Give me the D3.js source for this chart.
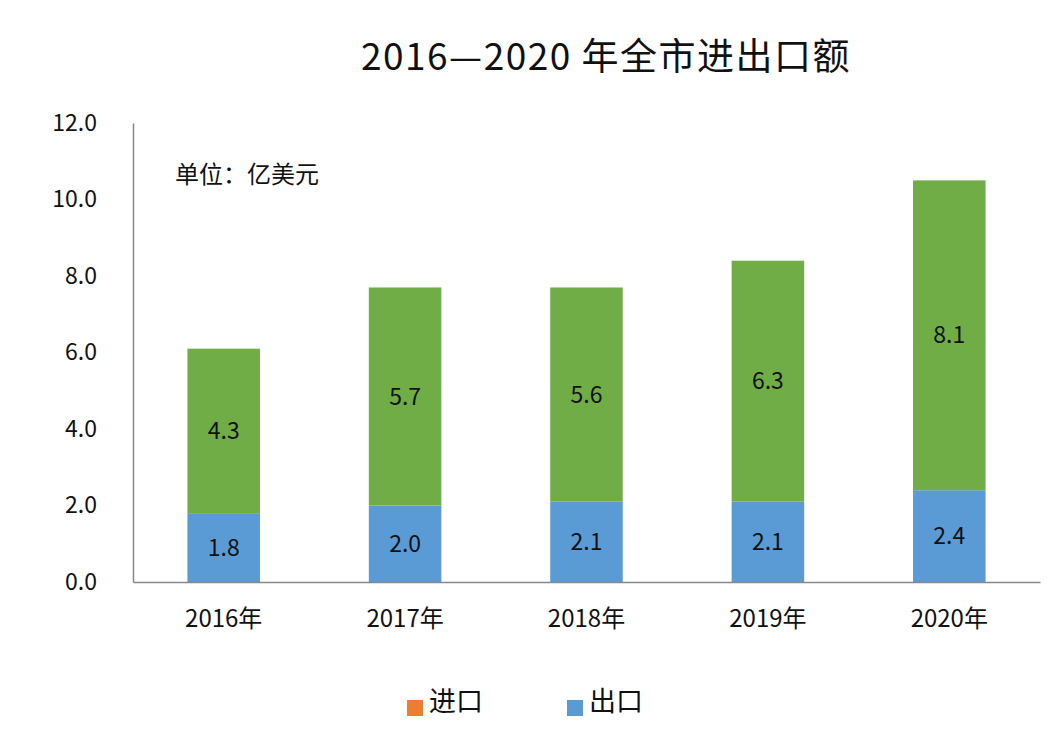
<!DOCTYPE html>
<html><head><meta charset="utf-8">
<script src="https://cdn.jsdelivr.net/npm/d3@7"></script>
<style>body{margin:0;background:#fff}svg{display:block}text{font-family:"Noto Sans CJK SC","Noto Sans",sans-serif;fill:#111}</style>
</head><body><div id="chart"></div>
<script>
const years = ["2016年","2017年","2018年","2019年","2020年"];
const exportVals = [1.8, 2.0, 2.1, 2.1, 2.4];   // 出口 (blue)
const importVals = [4.3, 5.7, 5.6, 6.3, 8.1];   // 进口 (green)
const yTicks = [0, 2, 4, 6, 8, 10, 12];
const legendItems = ["进口", "出口"];

const W = 1056, H = 756;
const m = {left:133, right:16, top:123, bottom:174};
const svg = d3.select("#chart").append("svg").attr("width", W).attr("height", H);

const x = d3.scaleBand().domain(years).range([m.left, W - m.right]).paddingInner(0.6).paddingOuter(0.3);
const y = d3.scaleLinear().domain([0, 12]).range([H - m.bottom, m.top]);

svg.append("text").attr("x", 606).attr("y", 57).attr("dy", "0.35em").attr("text-anchor", "middle")
  .style("font-size", "37px").style("letter-spacing", "1.5px").text("2016—2020 年全市进出口额");

const yAxis = svg.append("g").attr("transform", `translate(${m.left},0)`)
  .call(d3.axisLeft(y).tickValues(yTicks).tickFormat(d3.format(".1f")).tickSize(0).tickPadding(36));
yAxis.select(".domain").attr("stroke", "#888").attr("stroke-width", 1.5);
yAxis.selectAll("text").style("font-size", "23px").attr("fill", "#111");

const data = years.map((yr, i) => ({yr, exp: exportVals[i], imp: importVals[i]}));

const g = svg.append("g");
g.selectAll(".exp").data(data).join("rect")
  .attr("x", d => x(d.yr)).attr("width", x.bandwidth())
  .attr("y", d => y(d.exp)).attr("height", d => y(0) - y(d.exp)).attr("fill", "#5b9bd5");
g.selectAll(".imp").data(data).join("rect")
  .attr("x", d => x(d.yr)).attr("width", x.bandwidth())
  .attr("y", d => y(d.exp + d.imp)).attr("height", d => y(d.exp) - y(d.exp + d.imp)).attr("fill", "#70ad47");

g.selectAll(".lexp").data(data).join("text")
  .attr("x", d => x(d.yr) + x.bandwidth()/2).attr("y", d => y(d.exp/2)).attr("dy", "0.35em")
  .attr("text-anchor", "middle").style("font-size", "23px").text(d => d3.format(".1f")(d.exp));
g.selectAll(".limp").data(data).join("text")
  .attr("x", d => x(d.yr) + x.bandwidth()/2).attr("y", d => y(d.exp + d.imp/2)).attr("dy", "0.35em")
  .attr("text-anchor", "middle").style("font-size", "23px").text(d => d3.format(".1f")(d.imp));

const xAxis = svg.append("g").attr("transform", `translate(0,${y(0)})`)
  .call(d3.axisBottom(x).tickSize(0).tickPadding(28));
xAxis.select(".domain").attr("stroke", "#888").attr("stroke-width", 1.5);
xAxis.selectAll("text").style("font-size", "24px").attr("fill", "#111");

svg.append("text").attr("x", 175).attr("y", 175).attr("dy", "0.35em").style("font-size", "24px").text("单位：亿美元");

const legColors = ["#ed7d31", "#5b9bd5"];
const legX = [407, 567];
legendItems.forEach((t, i) => {
  svg.append("rect").attr("x", legX[i]).attr("y", 700).attr("width", 16).attr("height", 16).attr("fill", legColors[i]);
  svg.append("text").attr("x", legX[i] + 22).attr("y", 702).attr("dy", "0.35em").style("font-size", "27px").text(t);
});
</script></body></html>
